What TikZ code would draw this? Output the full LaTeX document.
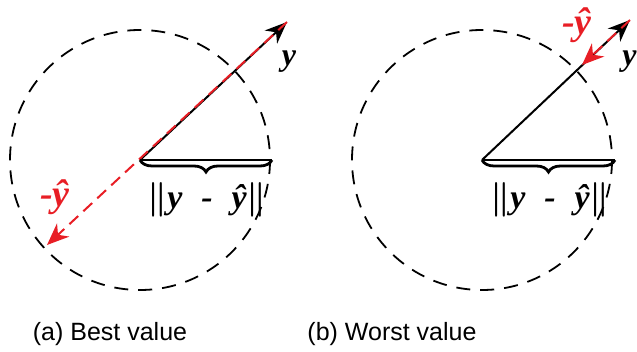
\documentclass[tikz,border=0pt]{standalone}
\usepackage{amsmath}
\usepackage{fontspec}
\setmainfont{Liberation Sans}
\newfontfamily\vecfont{Liberation Serif}
\usetikzlibrary{arrows.meta,decorations.pathreplacing}
\definecolor{vecred}{RGB}{232,30,37}

\begin{document}
\begin{tikzpicture}[
    x=0.5pt, y=-0.5pt,
    every node/.style={font=\fontsize{12.5}{14}\selectfont},
    ring/.style={draw, dashed, dash pattern=on 7pt off 5pt, line width=0.9pt},
    vec/.style={line width=1pt, -{Stealth[length=11pt, width=9pt, inset=3.5pt]}},
    negvec/.style={vec, vecred, dash pattern=on 6pt off 3.5pt},
    bracebar/.style={line width=1.4pt, decorate, decoration={brace, mirror, amplitude=6pt}},
    vlabel/.style={font=\vecfont\bfseries\itshape\fontsize{16}{18}\selectfont},
    rlabel/.style={font=\vecfont\bfseries\itshape\fontsize{19}{21}\selectfont, text=vecred},
    dlabel/.style={font=\vecfont\bfseries\itshape\fontsize{17}{19}\selectfont}
]
\useasboundingbox (0,0) rectangle (637,352);

% (a) best value
\coordinate (oA) at (140,160);
\coordinate (yA) at (287,22);
\coordinate (nA) at (47,245);
\coordinate (eA) at (272,160);
\draw[ring] (oA) circle (130);
\draw[vec] (oA) -- (yA);
\draw[negvec] (yA) -- (nA);
\draw[line width=1.2pt] (oA) -- (eA);
\draw[bracebar] (oA) -- (eA);
\node[vlabel] (lyA) at (289,62) {y};
\node[rlabel] (lnA) at (55,197) {-\^y};
\node[dlabel] (dA) at (207,200) {$\boldsymbol{\|}$y\;\;-\;\;\^y$\boldsymbol{\|}$};
\node (capA) at (110,334) {(a) Best value};

% (b) worst value
\coordinate (oB) at (482,160);
\coordinate (yB) at (630,20);
\coordinate (nB) at (582,65);
\coordinate (eB) at (615,160);
\draw[ring] (oB) circle (130);
\draw[vec] (oB) -- (yB);
\draw[negvec] (yB) -- (nB);
\draw[line width=1.2pt] (oB) -- (eB);
\draw[bracebar] (oB) -- (eB);
\node[vlabel, anchor=east, inner sep=0pt] (lyB) at (637,62) {y};
\node[rlabel] (lnB) at (577,25) {-\^y};
\node[dlabel] (dB) at (550,200) {$\boldsymbol{\|}$y\;\;-\;\;\^y$\boldsymbol{\|}$};
\node (capB) at (392,334) {(b) Worst value};
\end{tikzpicture}
\end{document}
